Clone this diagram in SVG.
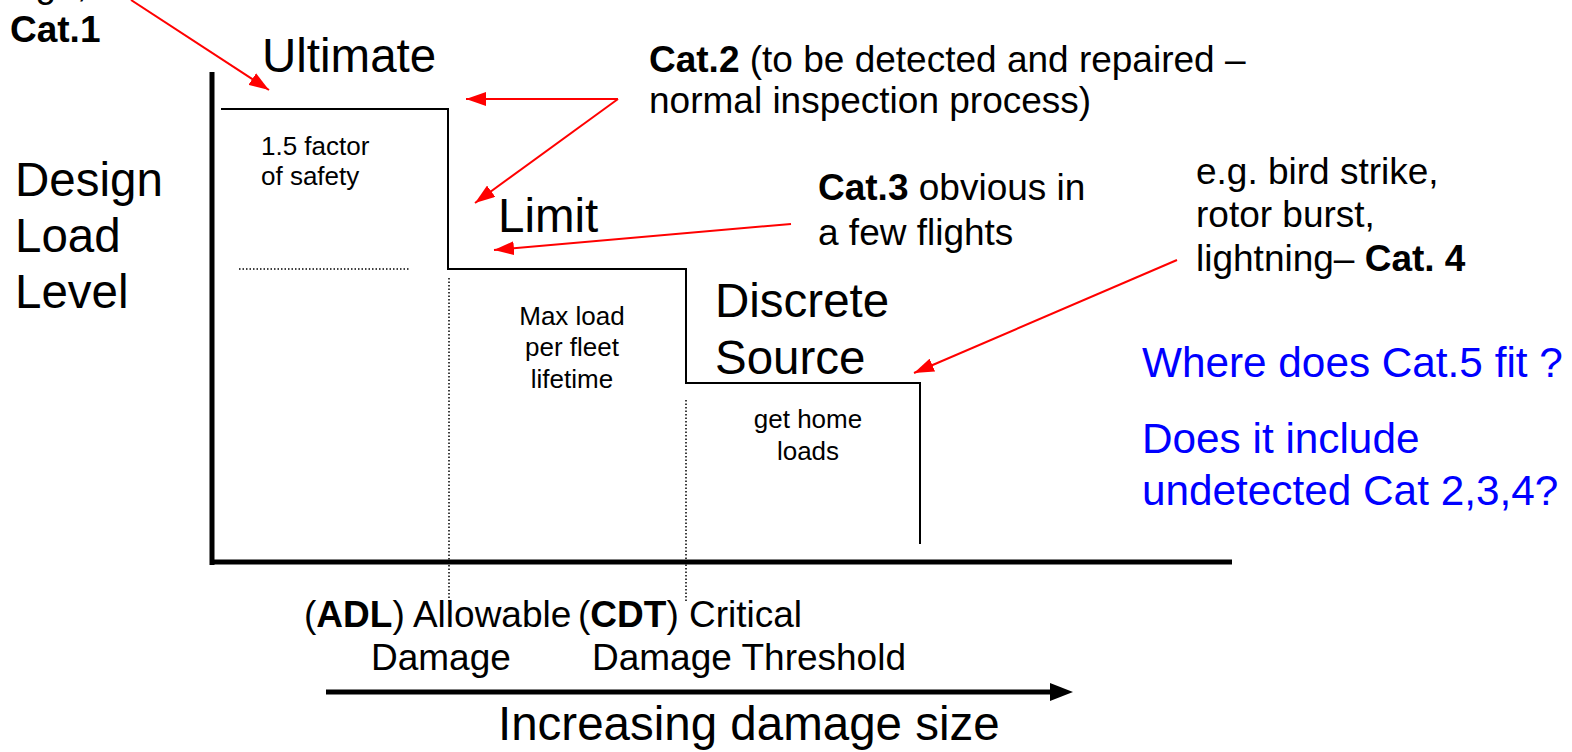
<svg xmlns="http://www.w3.org/2000/svg" width="1572" height="752" viewBox="0 0 1572 752">
  <defs>
    <style>
      text { font-family: "Liberation Sans", Arial, sans-serif; fill: #000; }
      .big { font-size: 47.5px; }
      .mid { font-size: 37px; }
      .small { font-size: 26px; }
      .blue { font-size: 42.3px; fill: #0000ff; }
      .b { font-weight: bold; }
      .red { stroke: #ff0000; stroke-width: 2; fill: none; }
      .dot { stroke: #000; stroke-width: 1.5; stroke-dasharray: 1.5 2; fill: none; }
    </style>
    <marker id="ah" viewBox="0 0 20 14" refX="20" refY="7" markerWidth="20" markerHeight="14" markerUnits="userSpaceOnUse" orient="auto">
      <path d="M0,0 L20,7 L0,14 Z" fill="#ff0000"/>
    </marker>
  </defs>
  <rect width="1572" height="752" fill="#ffffff"/>

  <g id="axes">
    <line x1="212" y1="72" x2="212" y2="565" stroke="#000" stroke-width="5"/>
    <line x1="210" y1="562" x2="1232" y2="562" stroke="#000" stroke-width="5"/>
  </g>

  <g id="step-curve">
    <path d="M221,109 H448 V269 H686 V383 H920 V544" fill="none" stroke="#000" stroke-width="2"/>
    <line class="dot" x1="239" y1="269" x2="410" y2="269"/>
    <line class="dot" x1="449" y1="278" x2="449" y2="602"/>
    <line class="dot" x1="686" y1="400" x2="686" y2="602"/>
  </g>

  <g id="y-label">
    <text class="big" x="15" y="196">Design</text>
    <text class="big" x="15" y="252">Load</text>
    <text class="big" x="15" y="308">Level</text>
  </g>

  <g id="ultimate">
    <text class="big" x="262" y="72">Ultimate</text>
    <text class="small" x="261" y="155">1.5 factor</text>
    <text class="small" x="261" y="185">of safety</text>
  </g>

  <g id="limit">
    <text class="big" x="498" y="232">Limit</text>
    <text class="small" x="572" y="325" text-anchor="middle">Max load</text>
    <text class="small" x="572" y="356" text-anchor="middle">per fleet</text>
    <text class="small" x="572" y="388" text-anchor="middle">lifetime</text>
  </g>

  <g id="discrete-source">
    <text class="big" x="715" y="317">Discrete</text>
    <text class="big" x="715" y="374">Source</text>
    <text class="small" x="808" y="428" text-anchor="middle">get home</text>
    <text class="small" x="808" y="460" text-anchor="middle">loads</text>
  </g>

  <g id="cat1">
    <text class="mid" x="87" y="-3" text-anchor="end">damage,</text>
    <text class="mid b" x="10" y="42">Cat.1</text>
  </g>

  <g id="cat2">
    <text class="mid" x="649" y="72"><tspan class="b">Cat.2</tspan> (to be detected and repaired –</text>
    <text class="mid" x="649" y="113">normal inspection process)</text>
  </g>

  <g id="cat3">
    <text class="mid" x="818" y="200"><tspan class="b">Cat.3</tspan> obvious in</text>
    <text class="mid" x="818" y="245">a few flights</text>
  </g>

  <g id="cat4">
    <text class="mid" x="1196" y="184">e.g. bird strike,</text>
    <text class="mid" x="1196" y="227">rotor burst,</text>
    <text class="mid" x="1196" y="271">lightning– <tspan class="b">Cat. 4</tspan></text>
  </g>

  <g id="questions">
    <text class="blue" x="1142" y="377">Where does Cat.5 fit ?</text>
    <text class="blue" x="1142" y="453">Does it include</text>
    <text class="blue" x="1142" y="505">undetected Cat 2,3,4?</text>
  </g>

  <g id="x-labels">
    <text class="mid" x="304" y="627">(<tspan class="b">ADL</tspan>) Allowable</text>
    <text class="mid" x="371" y="670">Damage</text>
    <text class="mid" x="578" y="627">(<tspan class="b">CDT</tspan>) Critical</text>
    <text class="mid" x="592" y="670">Damage Threshold</text>
    <text class="big" x="498" y="740">Increasing damage size</text>
  </g>

  <g id="connectors">
    <line class="red" x1="131" y1="0" x2="269" y2="90" marker-end="url(#ah)"/>
    <line class="red" x1="618" y1="99" x2="466" y2="99" marker-end="url(#ah)"/>
    <line class="red" x1="618" y1="99" x2="475" y2="203" marker-end="url(#ah)"/>
    <line class="red" x1="791" y1="224" x2="494" y2="250" marker-end="url(#ah)"/>
    <line class="red" x1="1177" y1="260" x2="914" y2="373" marker-end="url(#ah)"/>
    <line x1="326" y1="692" x2="1054" y2="692" stroke="#000" stroke-width="5"/>
    <path d="M1050,683 L1073,692 L1050,701 Z" fill="#000"/>
  </g>
</svg>
